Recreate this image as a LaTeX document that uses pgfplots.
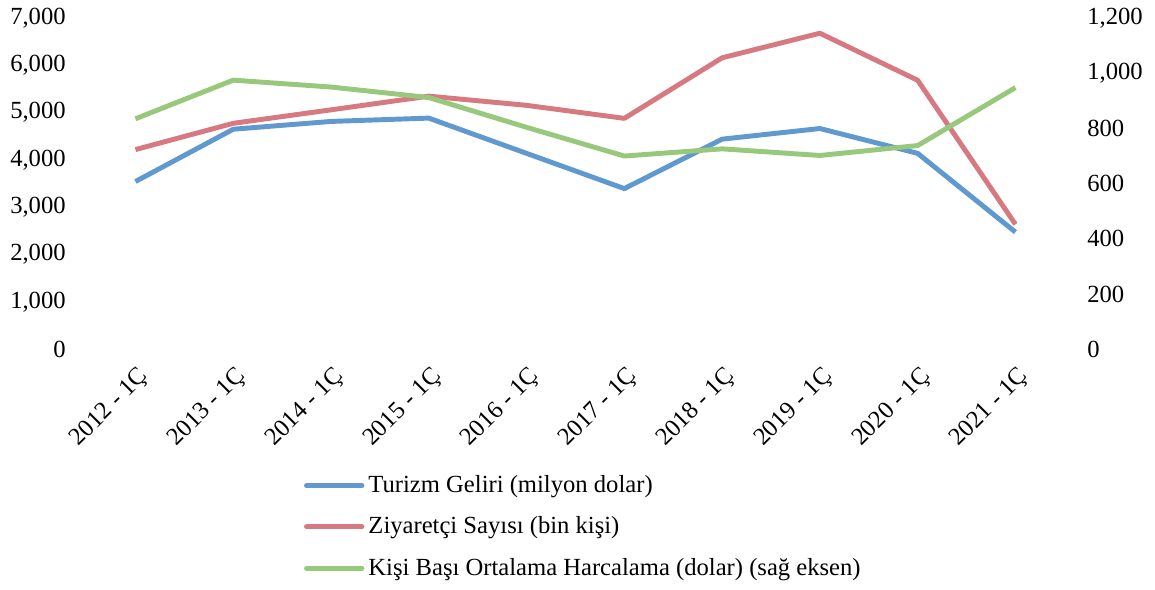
\documentclass[border=0pt]{standalone}
\usepackage{pgfplots}
\pgfplotsset{compat=1.18}
\usepackage{fontspec}
\setmainfont{Liberation Serif}
\definecolor{cblue}{RGB}{96,152,208}
\definecolor{cred}{RGB}{214,121,128}
\definecolor{cgreen}{RGB}{152,200,124}
\pgfplotstableread{
x tur ziy kisi
0 3545 4220 835
1 4650 4775 975
2 4815 5060 950
3 4885 5350 912
4 4140 5155 804
5 3395 4880 700
6 4440 6160 726
7 4665 6680 702
8 4140 5685 738
9 2475 2640 948
}\data
\begin{document}
\begin{tikzpicture}[font=\fontsize{12}{14}\selectfont]
\pgfplotsset{
  common/.style={
    scale only axis, width=476.6pt, height=161.4pt,
    xmin=-0.5, xmax=9.5,
    axis line style={draw=none},
    tick style={draw=none},
    /pgf/number format/1000 sep={,},
    /pgf/number format/assume math mode=true,
    scaled y ticks=false,
  }
}
\begin{axis}[common,
  ymin=0, ymax=7000, ytick={0,1000,...,7000},
  yticklabel style={inner sep=0pt, xshift=-10pt},
  xtick={0,...,9},
  xticklabels={2012 - 1Ç,2013 - 1Ç,2014 - 1Ç,2015 - 1Ç,2016 - 1Ç,2017 - 1Ç,2018 - 1Ç,2019 - 1Ç,2020 - 1Ç,2021 - 1Ç},
  xticklabel style={rotate=45, anchor=north east, inner sep=0pt, yshift=-6pt, xshift=-5pt},
  legend style={draw=none, fill=none, at={(axis description cs:0.222,-0.368)}, anchor=north west,
    row sep=6.3pt, font=\fontsize{12}{14}\selectfont, inner sep=0pt,
    nodes={inner xsep=2pt}},
  legend cell align=left,
  legend image code/.code={\draw[#1, line cap=round] (0pt,0pt) -- (27pt,0pt);},
]
\addplot[cblue, line width=2.4pt, no markers, line join=round] table[x=x,y=tur]{\data};
\addlegendentry{Turizm Geliri (milyon dolar)}
\addplot[cred, line width=2.4pt, no markers, line join=round] table[x=x,y=ziy]{\data};
\addlegendentry{Ziyaretçi Sayısı (bin kişi)}
\addlegendimage{cgreen, line width=2.4pt}
\addlegendentry{Kişi Başı Ortalama Harcalama (dolar) (sağ eksen)}
\end{axis}
\begin{axis}[common,
  ymin=0, ymax=1200, ytick={0,200,...,1200},
  axis y line*=right, axis x line=none,
  yticklabel style={inner sep=0pt, xshift=11pt, anchor=west},
]
\addplot[cgreen, line width=2.4pt, no markers, line join=round] table[x=x,y=kisi]{\data};
\end{axis}
\path ([yshift=8.8pt]current axis.north) ([yshift=-116.9pt]current axis.south);
\path ([xshift=-5pt]current bounding box.west) ([xshift=6pt]current bounding box.east);
\end{tikzpicture}
\end{document}
